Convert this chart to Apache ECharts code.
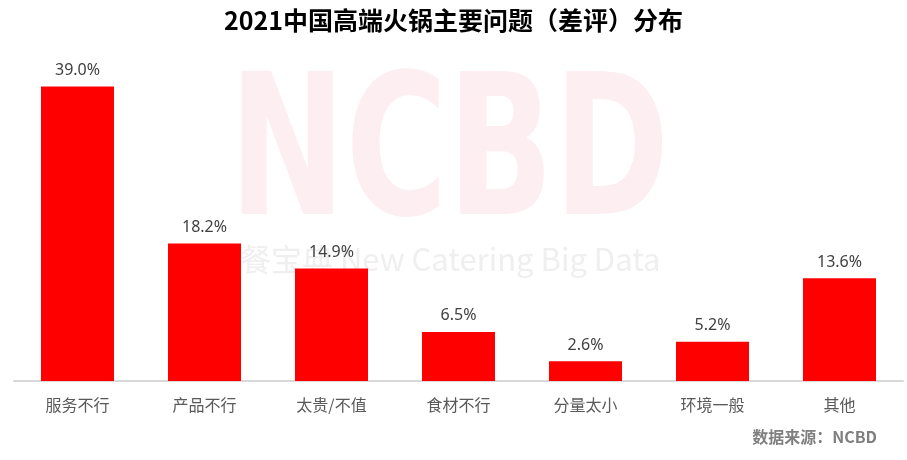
<!DOCTYPE html>
<html><head><meta charset="utf-8">
<script src="https://cdn.jsdelivr.net/npm/echarts@6/dist/echarts.min.js"></script>
<style>html,body{margin:0;padding:0;background:#fff}#c{width:907px;height:460px}</style>
</head><body><div id="c"></div>
<script>
var categories = ['服务不行','产品不行','太贵/不值','食材不行','分量太小','环境一般','其他'];
var values = [39.0, 18.2, 14.9, 6.5, 2.6, 5.2, 13.6];
var titleText = '2021中国高端火锅主要问题（差评）分布';
var sourceText = '数据来源：NCBD';

var chart = echarts.init(document.getElementById('c'));
chart.setOption({
  animation: false,
  backgroundColor: '#fff',
  title: {
    text: titleText, left: 'center', top: 3,
    textStyle: {fontSize: 25, fontWeight: 'bold', color: '#000', fontFamily: 'Noto Sans CJK SC'}
  },
  graphic: [
    {type: 'text', x: 229, y: 65, scaleX: 0.71, z: -10, style: {text: 'NCBD', fontSize: 196, fontWeight: 900, fontFamily: 'DejaVu Sans', fill: '#fdeef2', verticalAlign: 'top'}},
    {type: 'text', left: 240, top: 244, z: -10, style: {text: '餐宝典 New Catering Big Data', fontSize: 31, fontFamily: 'Noto Sans CJK SC', fill: '#efefef'}},
    {type: 'text', right: 30, top: 429, style: {text: sourceText, fontSize: 16, fontWeight: 'bold', fontFamily: 'Noto Sans CJK SC', fill: '#7f7f7f'}}
  ],
  grid: {left: 14, right: 4, top: 79, bottom: 79, containLabel: false},
  xAxis: {
    type: 'category', data: categories,
    axisLine: {lineStyle: {color: '#d9d9d9', width: 2}},
    axisTick: {show: false},
    axisLabel: {fontSize: 16, color: '#595959', margin: 16, fontFamily: 'Noto Sans CJK SC'}
  },
  yAxis: {type: 'value', min: 0, max: 40, show: false, splitLine: {show: false}},
  series: [{
    type: 'bar', data: values, barWidth: 73,
    itemStyle: {color: '#ff0000'},
    label: {show: true, position: 'top', distance: 8, fontSize: 16, color: '#404040', fontFamily: 'Noto Sans',
      formatter: function(p){return p.value.toFixed(1) + '%';}}
  }]
});
</script></body></html>
